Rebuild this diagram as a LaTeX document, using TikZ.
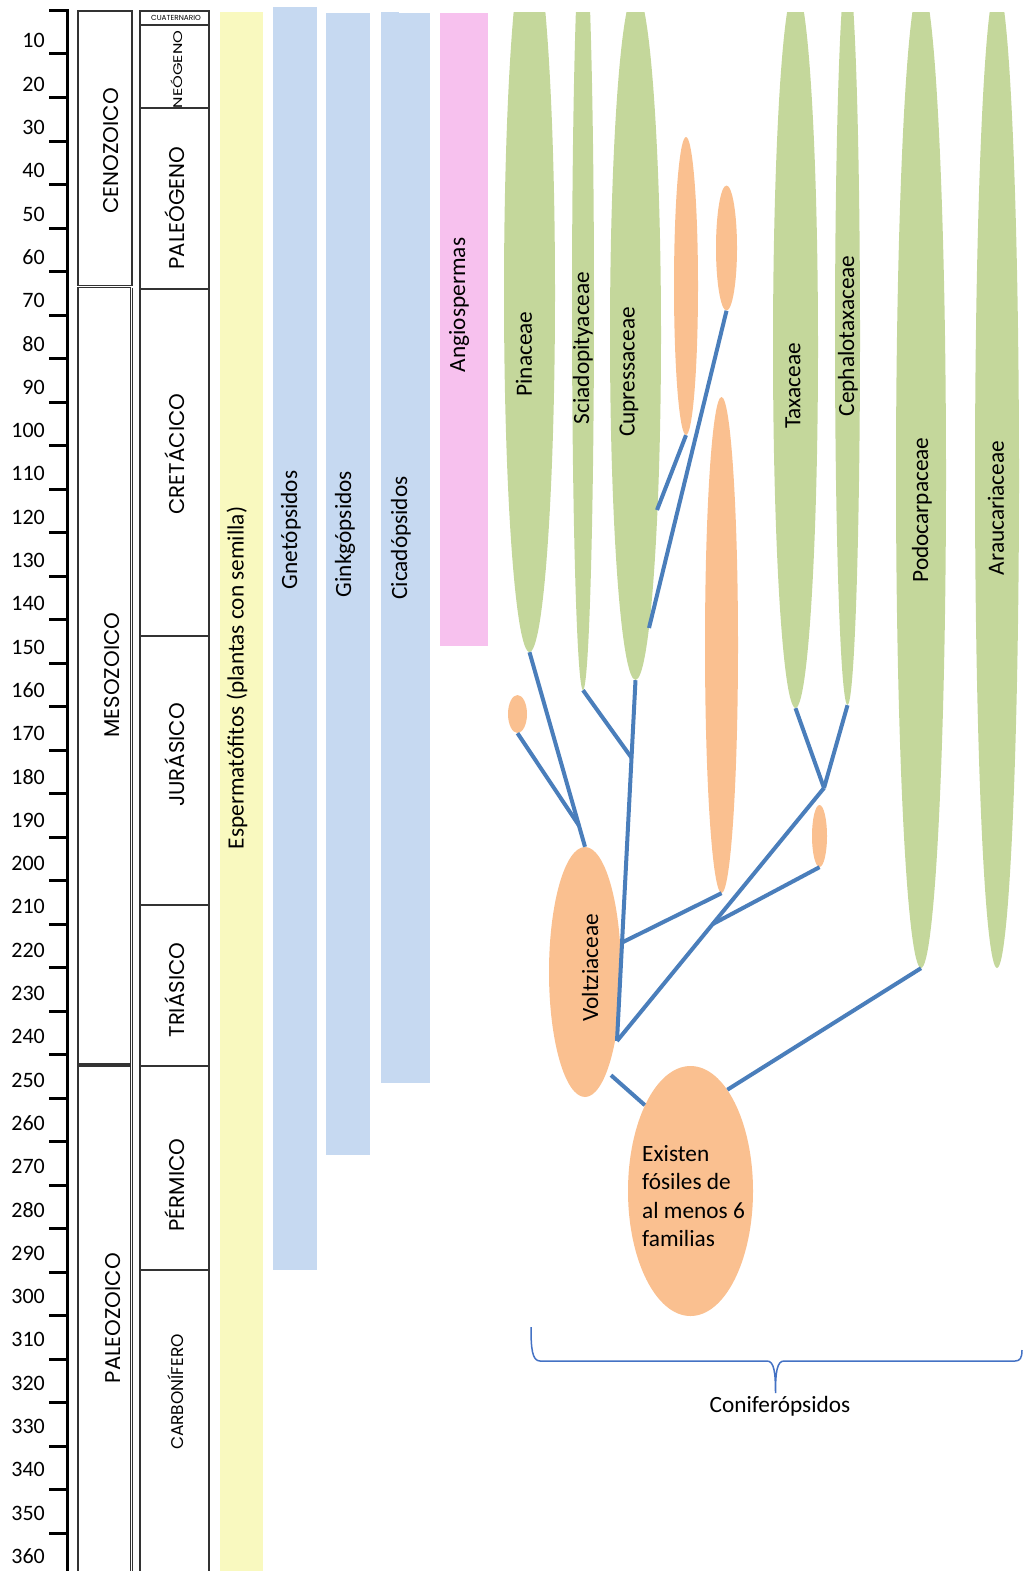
\documentclass[tikz,border=0pt]{standalone}
\usepackage{fontspec}
\setmainfont{Carlito}
\newfontfamily\gothic{Poppins}
\usetikzlibrary{shapes.geometric,calc}
\definecolor{grn}{HTML}{C4D79B}
\definecolor{org}{HTML}{FAC090}
\definecolor{lblue}{HTML}{C6D9F1}
\definecolor{ylw}{HTML}{F9F9BF}
\definecolor{pnk}{HTML}{F7C1EE}
\definecolor{lnkc}{HTML}{4A7EBB}
\definecolor{brc}{HTML}{4472C4}
\begin{document}
\begin{tikzpicture}[x=1pt,y=-1pt,
  fam/.style={ellipse, fill=grn, draw=none, inner sep=0pt},
  orn/.style={ellipse, fill=org, draw=none, inner sep=0pt},
  lk/.style={draw=lnkc, line width=4pt},
  bio/.style={rotate=90, inner sep=0pt, font=\fontsize{23.3}{28}\selectfont},
  geo/.style={rotate=90, anchor=base, inner sep=0pt, font=\gothic\fontsize{21.3}{24}\selectfont},
  box/.style={draw=black!80, line width=1.2pt},
  tick/.style={line width=3pt},
  ticklab/.style={anchor=east, inner sep=0pt, font=\fontsize{22}{26}\selectfont}]
\useasboundingbox (0,0) rectangle (1025,1571);
\clip (0,0) rectangle (1025,1571);

% time axis
\draw[tick] (67,10) -- (67,1575);
\foreach \v in {0,10,...,360}{
  \draw[tick] (49,{10.5+4.35*\v}) -- (68.5,{10.5+4.35*\v});
}
\foreach \v in {10,20,...,360}{
  \node[ticklab] (tl\v) at (45,{10.5+4.33*\v-13}) {\v};
}

% eras
\draw[box] (78,11) rectangle (132,285.5);
\draw[box] (78,287.5) rectangle (130.5,1064);
\draw[box] (78,1066) rectangle (130.5,1580);
\draw[box] (132.5,287.5) -- (132.5,1580);
\node[geo] (ceno) at (118.5,151) {CENOZOICO};
\node[geo] (meso) at (119.5,675) {MESOZOICO};
\node[geo] (paleo) at (120.5,1318) {PALEOZOICO};

% periods
\draw[box] (140,11) rectangle (209,25);
\draw[box] (140,25) rectangle (209,108);
\draw[box] (140,108) rectangle (209,289);
\draw[box] (140,289) rectangle (209,636);
\draw[box] (140,636) rectangle (209,905);
\draw[box] (140,905) rectangle (209,1066);
\draw[box] (140,1066) rectangle (209,1270);
\draw[box] (140,1270) rectangle (209,1580);
\node[inner sep=0pt, font=\gothic\fontsize{7.3}{8}\selectfont] (cuat) at (176,18.3) {CUATERNARIO};
\node[geo, font=\gothic\fontsize{12.5}{14}\selectfont] (neo) at (182.7,69.5) {\scalebox{1.3}[1]{NEÓGENO}};
\node[geo] (paleg) at (184,208) {PALEÓGENO};
\node[geo] (cret) at (184,454) {CRETÁCICO};
\node[geo] (jura) at (184,755) {JURÁSICO};
\node[geo] (tria) at (184,990) {TRIÁSICO};
\node[geo] (perm) at (184,1185) {PÉRMICO};
\node[geo, font=\gothic\fontsize{17}{19}\selectfont] (carb) at (183,1392) {CARBONÍFERO};

% bars
\fill[ylw] (220,12) rectangle (263,1575);
\fill[lblue] (273,7) rectangle (317,1270);
\fill[lblue] (326,13) rectangle (370,1155);
\fill[lblue] (381,13) rectangle (430,1083);
\fill[lblue] (381,12) rectangle (399,13.5);
\fill[pnk] (440,13) rectangle (488,646);
\node[bio] (esp) at (237,678) {Espermatófitos (plantas con semilla)};
\node[bio] (gne) at (291,530) {Gnetópsidos};
\node[bio] (gin) at (345,534) {Ginkgópsidos};
\node[bio] (cic) at (401,538) {Cicadópsidos};
\node[bio] (ang) at (459,305) {Angiospermas};

% green families (clipped at top)
\begin{scope}
\clip (0,13) rectangle (1025,1571);
\node[fam, minimum width=51pt, minimum height=718pt] (pin) at (529.5,293) {};
\node[fam, minimum width=22pt, minimum height=770pt] (sci) at (583,305) {};
\node[fam, minimum width=51pt, minimum height=690pt] (cup) at (635.5,335) {};
\node[fam, minimum width=45pt, minimum height=722pt] (tax) at (795.5,347) {};
\node[fam, minimum width=25pt, minimum height=738pt] (cep) at (847.5,336) {};
\node[fam, minimum width=50pt, minimum height=986pt] (pod) at (921,475) {};
\node[fam, minimum width=44pt, minimum height=984pt] (ara) at (997,476) {};
\end{scope}

% orange groups
\node[orn, minimum width=19pt, minimum height=38pt] (s1) at (517.5,714) {};
\node[orn, minimum width=24pt, minimum height=298pt] (o1) at (686,286) {};
\node[orn, minimum width=21pt, minimum height=125pt] (o2) at (726.5,248) {};
\node[orn, minimum width=33pt, minimum height=496pt] (o3) at (721.5,645) {};
\node[orn, minimum width=15pt, minimum height=62pt] (o4) at (819.5,836) {};
\node[orn, minimum width=72pt, minimum height=250pt] (volt) at (585,972) {};
\node[orn, minimum width=125pt, minimum height=250pt] (fos) at (690.5,1191) {};

% junctions
\coordinate (jv) at (617,1041);
\coordinate (j4) at (824,788);
\coordinate (c1) at (657,510);
\coordinate (c2) at (649,628);
\coordinate (j1) at ($(pin.south)!0.89!(volt.north)$);
\coordinate (j2) at ($(cup.south)!0.215!(jv)$);
\coordinate (j3) at ($(cup.south)!0.727!(jv)$);
\coordinate (j5) at ($(j4)!0.538!(jv)$);

% connectors
\draw[lk] (pin.south) -- (volt.north);
\draw[lk] (s1.south) -- (j1);
\draw[lk] (sci.south) -- (j2);
\draw[lk] (cup.south) -- (jv);
\draw[lk] (o3.south) -- (j3);
\draw[lk] (tax.south) -- (j4);
\draw[lk] (cep.south) -- (j4);
\draw[lk] (j4) -- (jv);
\draw[lk] (o4.south) -- (j5);
\draw[lk] ($(volt.south)+(26,-22)$) -- (fos.118);
\draw[lk] (pod.south) -- (fos.70);
\draw[lk] (o1.south) -- (c1);
\draw[lk] (o2.south) -- (c2);

% family labels
\node[bio] (lpin) at (524,354) {Pinaceae};
\node[bio] (lsci) at (583,348) {Sciadopityaceae};
\node[bio] (lcup) at (629,372) {Cupressaceae};
\node[bio] (ltax) at (793,386) {Taxaceae};
\node[bio] (lcep) at (848,336) {Cephalotaxaceae};
\node[bio] (lpod) at (922,510) {Podocarpaceae};
\node[bio] (lara) at (996,508) {Araucariaceae};
\node[bio] (lvolt) at (590,968) {Voltziaceae};
\node[anchor=west, align=left, inner sep=0pt, font=\fontsize{23.3}{28.5}\selectfont] (lfos) at (642,1196) {Existen\\fósiles de\\al menos 6\\familias};

% brace
\coordinate (bl) at (531,1327);
\coordinate (bt) at (775.5,1393);
\coordinate (br) at (1022,1350);
\draw[brc, line width=1.5pt] (bl) .. controls (531,1348) and (532,1361) .. (540,1361) -- (767,1361)
  .. controls (774,1361) and (775.5,1372) .. (bt)
  .. controls (775.5,1372) and (777,1361) .. (784,1361) -- (1015,1361)
  .. controls (1020,1361) and (1022,1358) .. (br);
\node[inner sep=0pt, font=\fontsize{23.3}{28}\selectfont] (conif) at (780,1406) {Coniferópsidos};
\end{tikzpicture}
\end{document}
